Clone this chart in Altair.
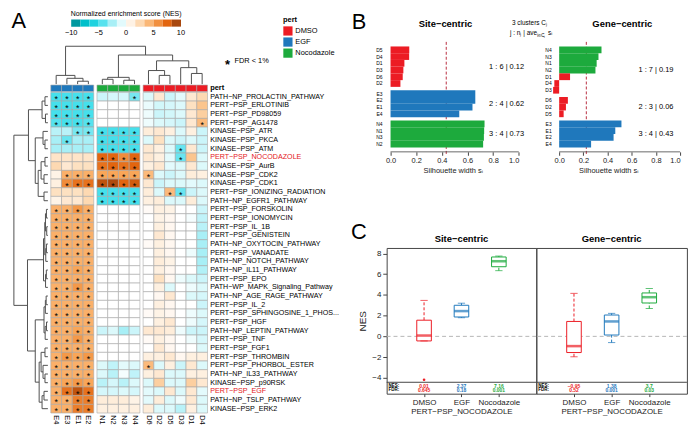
import altair as alt
import pandas as pd

S = 0.98


def P(v):
    return round(v * S, 3)


# ===================== Panel A data =====================
COLS = ["E4", "E3", "E1", "E2", "N1", "N2", "N3", "N4", "D6", "D2", "D5", "D3", "D1", "D4"]
COL_PERT = ["EGF"] * 4 + ["Nocodazole"] * 4 + ["DMSO"] * 6
ROWS = [
    "PATH−NP_PROLACTIN_PATHWAY", "PERT−PSP_ERLOTINIB", "PERT−PSP_PD98059", "PERT−PSP_AG1478",
    "KINASE−PSP_ATR", "KINASE−PSP_PKCA", "KINASE−PSP_ATM", "PERT−PSP_NOCODAZOLE",
    "KINASE−PSP_AurB", "KINASE−PSP_CDK2", "KINASE−PSP_CDK1", "PERT−PSP_IONIZING_RADIATION",
    "PATH−NP_EGFR1_PATHWAY", "PERT−PSP_FORSKOLIN", "PERT−PSP_IONOMYCIN", "PERT−PSP_IL_1B",
    "PERT−PSP_GENISTEIN", "PATH−NP_OXYTOCIN_PATHWAY", "PERT−PSP_VANADATE", "PATH−NP_NOTCH_PATHWAY",
    "PATH−NP_IL11_PATHWAY", "PERT−PSP_EPO", "PATH−WP_MAPK_Signaling_Pathway", "PATH−NP_AGE_RAGE_PATHWAY",
    "PERT−PSP_IL_2", "PERT−PSP_SPHINGOSINE_1_PHOS...", "PERT−PSP_HGF", "PATH−NP_LEPTIN_PATHWAY",
    "PERT−PSP_TNF", "PERT−PSP_FGF1", "PERT−PSP_THROMBIN", "PERT−PSP_PHORBOL_ESTER",
    "PATH−NP_IL33_PATHWAY", "KINASE−PSP_p90RSK", "PERT−PSP_EGF", "PATH−NP_TSLP_PATHWAY",
    "KINASE−PSP_ERK2",
]
RED_ROWS = ["PERT−PSP_NOCODAZOLE", "PERT−PSP_EGF"]

NES = [
    [-4.5, -4.5, -4.5, -4.5, -1.5, -1.2, -1.2, -3.5, -1.0, 1.5, -1.5, -0.8, 1.5, 2.5],
    [-4.5, -4.5, -4.5, -4.5, 0.0, 0.0, 0.0, 0.0, -0.6, -1.3, -1.2, -1.0, 2.0, 3.5],
    [-4.5, -4.5, -4.5, -4.5, 0.0, 0.0, 0.0, 0.0, -0.5, -1.5, -1.3, -1.0, 1.5, 3.0],
    [-4.2, -4.5, -4.5, -4.2, 0.0, 0.0, 0.0, 0.0, -0.5, -1.0, -1.2, -1.5, 1.5, 4.0],
    [-2.0, -2.0, -3.5, -3.5, -4.5, -4.5, -4.5, -4.5, 1.2, 1.5, 1.0, -1.0, 1.0, -1.5],
    [-2.5, -3.8, -2.5, -2.5, -4.5, -4.5, -4.5, -4.5, -1.0, 2.0, -1.0, -1.5, -1.0, -1.5],
    [-2.5, -2.5, -2.5, -2.5, -4.5, -4.5, -4.5, -4.5, 1.5, 1.0, -1.0, -3.8, 1.5, -1.5],
    [1.8, 1.8, 1.8, 1.8, 7.5, 7.5, 6.0, 7.5, 1.5, 1.0, -0.8, -3.8, 3.5, -1.0],
    [2.5, 1.5, 2.0, 2.0, 7.0, 7.5, 7.0, 7.5, 1.0, 1.5, -0.8, -1.0, 1.5, -1.0],
    [0.8, 4.5, 4.5, 4.5, 5.0, 5.0, 5.0, 5.0, 4.0, -1.0, -1.5, -1.0, 1.2, 1.0],
    [1.0, 6.0, 7.0, 7.0, 8.5, 9.0, 7.5, 8.0, 1.5, -1.5, -1.0, -1.0, -0.8, -1.0],
    [2.0, 2.0, 2.0, 2.5, -4.5, -4.5, -4.5, -4.5, 1.2, -1.0, 4.0, -3.8, -1.5, -1.0],
    [0.8, 1.5, 1.5, 2.5, -4.5, -4.5, -4.5, -4.5, 1.0, 1.2, -1.0, -1.0, 1.2, -1.0],
    [4.5, 4.5, 5.5, 4.5, 0.0, 0.0, 0.0, 0.0, 0.3, 1.0, 0.8, 0.0, 0.0, -1.5],
    [4.5, 4.5, 4.5, 4.5, 0.0, 0.0, 0.0, 0.0, 0.0, 0.8, 0.5, 0.0, -0.3, -1.8],
    [4.5, 4.5, 4.5, 4.5, 0.0, 0.0, 0.0, 0.0, 0.0, 1.0, 0.5, 0.0, 0.0, -2.0],
    [4.5, 4.5, 4.5, 4.5, 0.0, 0.0, 0.0, 0.0, 0.0, 1.5, 0.5, 0.0, 0.0, -2.5],
    [4.5, 4.5, 4.5, 4.5, 0.0, 0.0, 0.0, 0.0, 0.3, 1.0, 0.5, 0.0, 0.0, -2.5],
    [4.5, 4.5, 4.5, 4.5, 0.0, 0.0, 0.0, 0.0, 0.0, 1.0, 0.5, 0.0, -0.5, -2.5],
    [4.5, 4.5, 4.5, 4.5, 0.0, 0.0, 0.0, 0.0, 0.0, 1.2, 0.8, 0.0, 0.0, -2.5],
    [4.5, 4.5, 5.0, 4.5, 0.0, 0.0, 0.0, 0.0, 0.0, 1.0, 0.5, 0.0, 0.0, -2.2],
    [4.5, 4.5, 4.5, 4.5, 0.0, 0.0, 0.0, 0.0, 0.0, 2.0, 0.5, -0.5, -1.0, -1.5],
    [4.5, 4.5, 5.5, 4.5, 0.0, 0.0, 0.0, 0.0, 0.0, 1.0, -1.0, 0.0, -0.5, -1.0],
    [4.5, 4.5, 4.5, 4.5, 0.0, 0.0, 0.0, 0.0, 0.0, 0.5, 1.5, 0.0, -1.0, -1.2],
    [4.5, 4.5, 4.5, 4.5, 0.0, 0.0, 0.0, 0.0, 0.0, 1.0, 0.5, 0.0, 0.0, -1.5],
    [4.5, 4.5, 4.5, 4.5, 0.0, 0.0, 0.0, 0.0, 0.3, 0.8, 0.5, 0.0, -0.5, -1.0],
    [4.5, 4.5, 4.5, 4.5, 0.0, 0.0, 0.0, 0.0, 0.0, 1.0, 1.5, 0.0, -0.5, -1.2],
    [4.5, 4.5, 5.0, 4.5, -1.5, -1.0, -2.5, -1.5, 1.5, 1.5, 1.2, -0.5, -1.5, -1.5],
    [4.5, 4.5, 5.5, 4.5, 0.0, 0.0, 0.0, 0.0, 0.3, 1.0, 0.5, 0.0, -0.5, -1.2],
    [4.5, 4.5, 4.5, 4.5, 0.0, 0.0, 0.0, 0.0, 0.0, 1.5, 0.5, 0.0, 0.0, -1.0],
    [4.5, 5.5, 5.0, 5.5, 0.0, 0.0, 0.0, 0.0, 1.0, 1.0, 1.5, 0.5, 1.0, 1.0],
    [4.5, 4.5, 4.5, 4.5, -1.0, -1.8, -0.8, -1.0, 4.0, -1.0, 1.0, -1.5, 1.5, -1.0],
    [4.5, 4.5, 4.5, 4.5, -1.0, -2.0, -0.3, -1.8, 1.0, 1.5, -1.0, -1.0, 1.0, 1.0],
    [4.5, 5.0, 5.5, 5.0, -2.0, -1.2, -2.0, -1.0, -1.0, 3.0, -1.0, -1.0, 3.0, 1.5],
    [4.5, 7.0, 8.5, 7.0, -1.2, -1.2, -1.0, -1.2, -0.8, -1.0, 1.5, -1.0, 1.5, -0.8],
    [4.5, 4.5, 6.5, 6.5, 1.2, 1.2, 1.2, 0.8, -0.8, 1.2, -1.0, -0.5, 1.5, -1.0],
    [4.5, 4.5, 6.5, 6.5, 1.0, 1.0, 1.0, 1.0, 1.2, -1.0, -1.0, -2.0, 1.0, -1.0],
]

# '*' = FDR < 1%   (column order as COLS)
STARS = [
    "****...*......", "****..........", "****..........", "****.........*",
    "..******......", ".*..****......", "....****...*..", "....****...*..",
    "....****......", ".********.....", ".*******......", "....****..**..",
    "....****......",
    "****..........", "****..........", "****..........", "****..........",
    "****..........", "****..........", "****..........", "****..........",
    "****..........", "****..........", "****..........", "****..........",
    "****..........", "****..........", "****..........", "****..........",
    "****..........", "****..........", "****....*.....", "****..........",
    "****..........", "****..........", "****..........", "****..........",
]

# dendrograms: (left, right, merge height in px)
COL_TREE = ((0, (1, (2, 3, 3), 6), 9),
            (((4, 5, 5), (6, 7, 4), 7),
             ((8, (9, 10, 9), 14), (11, (12, 13, 11), 17), 24), 30), 39)
ROW_A = ((0, 1, 3), (2, 3, 2.5), 6)
ROW_B = (4, (5, 6, 3), 5)
ROW_C = ((7, 8, 3), (9, 10, 4), 7)
ROW_D = (11, 12, 4)
ROW_T = (ROW_A, (ROW_B, (ROW_C, ROW_D, 10), 13), 20)
ROW_X = ((((13, 14, 1.5), (15, 16, 1.2), 2.5), ((17, 18, 1.5), 19, 2.2), 3.2),
         ((20, 21, 1.6), 22, 2.4), 4.5)
ROW_Y1 = (((23, 24, 1.8), 25, 2.6), ((26, 27, 1.4), 28, 2.8), 4)
ROW_Y2 = (((29, 30, 3), (31, (32, 33, 3), 5), 7), ((34, 35, 4), 36, 6), 9)
ROW_TREE = (ROW_T, (ROW_X, (ROW_Y1, ROW_Y2, 13), 21), 35)

PERT_DOMAIN = ["DMSO", "EGF", "Nocodazole"]
PERT_COLORS = ["#EC1C24", "#1F78BC", "#1DAA3D"]

NES_STOPS = [-10, -7.5, -5, -2.5, 0, 2.5, 5, 7.5, 10]
NES_COLORS = ["#00868B", "#00BFCA", "#2EDCEA", "#A8EFF6", "#FFFFFF",
              "#FDD9B2", "#F9A658", "#E2650F", "#8B3A0F"]
CB_BINS = [-10, -8.33, -6.67, -5, -3.33, -1.67, 0, 1.67, 3.33, 5, 6.67, 8.33, 10]
CB_TICKS = [-10, -5, 0, 5, 10]
CB_TICK_LABELS = ["−10", "−5", "0", "5", "10"]

# ===================== Panel B data =====================
SITE_ORDER = ["D5", "D4", "D1", "D3", "D6", "D2", "E3", "E2", "E1", "E4", "N4", "N1", "N3", "N2"]
SITE_SIL = [0.146, 0.145, 0.108, 0.100, 0.095, 0.077, 0.661, 0.661, 0.639, 0.536,
            0.733, 0.730, 0.728, 0.722]
SITE_SIZES = [6, 4, 4]
SITE_CLUSTER_TEXT = ["1 : 6 | 0.12", "2 : 4 | 0.62", "3 : 4 | 0.73"]
GENE_ORDER = ["N4", "N3", "N1", "N2", "D1", "D4", "D3", "D6", "D2", "D5", "E3", "E1", "E2", "E4"]
GENE_SIL = [0.35, 0.325, 0.31, 0.30, 0.09, -0.04, -0.05, 0.072, 0.056, 0.037,
            0.515, 0.464, 0.45, 0.264]
GENE_SIZES = [7, 3, 4]
GENE_CLUSTER_TEXT = ["1 : 7 | 0.19", "2 : 3 | 0.06", "3 : 4 | 0.43"]
SAMPLE_PERT = {"D": "DMSO", "E": "EGF", "N": "Nocodazole"}

# ===================== Panel C data =====================
C_GROUPS = ["DMSO", "EGF", "Nocodazole"]
SITE_LO = [-0.44, 1.80, 6.34]
SITE_Q1 = [-0.44, 1.87, 6.72]
SITE_MED = [0.08, 2.44, 7.25]
SITE_Q3 = [1.56, 3.00, 7.66]
SITE_HI = [3.47, 3.20, 7.75]
SITE_OUT_GRP = ["DMSO"]
SITE_OUT_VAL = [-4.19]
SITE_NES_TXT = ["0.01", "2.37", "7.16"]
SITE_FDR_TXT = ["0.645", "0.18", "0.001"]
GENE_LO = [-1.97, -0.60, 2.69]
GENE_Q1 = [-1.56, 0.13, 3.22]
GENE_MED = [-0.94, 1.44, 3.78]
GENE_Q3 = [1.44, 2.06, 4.19]
GENE_HI = [4.15, 2.22, 4.62]
GENE_NES_TXT = ["−0.95", "1.38", "3.7"]
GENE_FDR_TXT = ["0.52", "0.001", "0.03"]

# ===================== layout constants (reference px) =====================
COL_PX, ROW_PX = 11.05, 8.92
HM_LEFT, HM_TOP = 41.0, 85.0
HM_W, ROW0_H = 386.0, 141.7
GAP = 0.3

pert_scale = alt.Scale(domain=PERT_DOMAIN, range=PERT_COLORS)
nes_scale = alt.Scale(domain=NES_STOPS, range=NES_COLORS, interpolate="rgb")
one = pd.DataFrame({"k": [0]})


def tree_segments(node, leaf_pos):
    if isinstance(node, int):
        return leaf_pos[node], 0.0, []
    left, right, h = node
    pl, hl, sl = tree_segments(left, leaf_pos)
    pr, hr, sr = tree_segments(right, leaf_pos)
    segs = sl + sr + [(pl, hl, pl, h), (pr, hr, pr, h), (pl, h, pr, h)]
    return (pl + pr) / 2.0, h, segs


# ---------- heatmap frames ----------
blocks = []
b = 0
for j, p in enumerate(COL_PERT):
    if j > 0 and p != COL_PERT[j - 1]:
        b += 1
    blocks.append(b)
col_x0 = [j + GAP * blocks[j] for j in range(len(COLS))]
col_cx = [x + 0.5 for x in col_x0]
X_RIGHT = col_x0[-1] + 1

cells, stars = [], []
for i, r in enumerate(ROWS):
    for j, c in enumerate(COLS):
        cells.append({"x0": col_x0[j], "x1": col_x0[j] + 1, "y0": i, "y1": i + 1,
                      "nes": NES[i][j], "row": r, "col": c})
        if STARS[i][j] == "*":
            stars.append({"cx": col_cx[j], "cy": i + 0.5})
cell_df = pd.DataFrame(cells)
star_df = pd.DataFrame(stars)

pert_df = pd.DataFrame({"x0": col_x0, "x1": [x + 1 for x in col_x0],
                        "y0": [-0.85] * len(COLS), "y1": [-0.1] * len(COLS), "pert": COL_PERT})

lab_df = pd.DataFrame({"label": ROWS, "ly": [i + 0.5 for i in range(len(ROWS))],
                       "lx": [X_RIGHT + 0.25] * len(ROWS)})
lab_df["red"] = lab_df["label"].isin(RED_ROWS)
collab_df = pd.DataFrame({"name": COLS, "cx": col_cx, "ly": [len(ROWS) + 0.25] * len(COLS)})

LEAF_Y = (76.5 - HM_TOP) / ROW_PX
_, _, csegs = tree_segments(COL_TREE, col_cx)
ctree_df = pd.DataFrame([{"x": a, "y": LEAF_Y - ha / ROW_PX, "x2": bb, "y2": LEAF_Y - hb / ROW_PX}
                         for a, ha, bb, hb in csegs])
LEAF_X = (38.0 - HM_LEFT) / COL_PX
_, _, rsegs = tree_segments(ROW_TREE, [i + 0.5 for i in range(len(ROWS))])
rtree_df = pd.DataFrame([{"y": a, "x": LEAF_X - ha / COL_PX, "y2": bb, "x2": LEAF_X - hb / COL_PX}
                         for a, ha, bb, hb in rsegs])

hx_s = alt.Scale(domain=[-HM_LEFT / COL_PX, (HM_W - HM_LEFT) / COL_PX], nice=False, zero=False)
hy_s = alt.Scale(domain=[-HM_TOP / ROW_PX, (ROW0_H - HM_TOP) / ROW_PX], nice=False, zero=False,
                 reverse=True)


def HX(f):
    return alt.X(f, type="quantitative", scale=hx_s, axis=None)


def HY(f):
    return alt.Y(f, type="quantitative", scale=hy_s, axis=None)


DEND_COLOR = "#505050"
dend_top = alt.Chart(ctree_df).mark_rule(color=DEND_COLOR, strokeWidth=1).encode(
    x=HX("x"), y=HY("y"), x2="x2", y2="y2")
dend_left = alt.Chart(rtree_df).mark_rule(color=DEND_COLOR, strokeWidth=1).encode(
    x=HX("x"), y=HY("y"), x2="x2", y2="y2")
cell_layer = alt.Chart(cell_df).mark_rect(stroke="#A8A8A8", strokeWidth=0.6).encode(
    x=HX("x0"), x2="x1", y=HY("y0"), y2="y1",
    fill=alt.Fill("nes:Q", scale=nes_scale, legend=None))
star_layer = alt.Chart(star_df).mark_text(text="*", fontSize=9, dy=2.5, color="black").encode(
    x=HX("cx"), y=HY("cy"))
pert_layer = alt.Chart(pert_df).mark_rect(stroke="#A8A8A8", strokeWidth=0.6).encode(
    x=HX("x0"), x2="x1", y=HY("y0"), y2="y1",
    color=alt.Color("pert:N", scale=pert_scale,
                    legend=alt.Legend(orient="none", legendX=P(280), legendY=P(6.5), title="pert",
                                      titleFontSize=7.5, titleFontWeight="bold", labelFontSize=7.5,
                                      symbolType="square", symbolSize=P(88), symbolStrokeWidth=0,
                                      rowPadding=P(1.2), labelOffset=P(2.5), titlePadding=P(2.5),
                                      padding=0, titleColor="black", labelColor="black")))
rowlab_black = alt.Chart(lab_df[~lab_df["red"]]).mark_text(
    align="left", baseline="middle", fontSize=7.2, color="black").encode(
    x=HX("lx"), y=HY("ly"), text="label:N")
rowlab_red = alt.Chart(lab_df[lab_df["red"]]).mark_text(
    align="left", baseline="middle", fontSize=7.2, color="#E4161C").encode(
    x=HX("lx"), y=HY("ly"), text="label:N")
collab = alt.Chart(collab_df).mark_text(
    align="left", baseline="middle", angle=90, fontSize=7.5, color="black").encode(
    x=HX("cx"), y=HY("ly"), text="name:N")
pert_txt = alt.Chart(pd.DataFrame({"x": [X_RIGHT + 0.25], "y": [-0.47]})).mark_text(
    text="pert", align="left", baseline="middle", fontSize=7.5, fontWeight="bold").encode(
    x=HX("x"), y=HY("y"))
fdr_star = alt.Chart(one).mark_text(text="*", fontSize=13, fontWeight="bold", baseline="middle").encode(
    x=alt.value(P(223)), y=alt.value(P(56.5)))
fdr_txt = alt.Chart(one).mark_text(text="FDR < 1%", fontSize=7.5, align="left", baseline="middle").encode(
    x=alt.value(P(230)), y=alt.value(P(53)))
letter_a = alt.Chart(one).mark_text(text="A", fontSize=22, baseline="middle").encode(
    x=alt.value(P(8)), y=alt.value(P(12)))

# colorbar (its own x scale: -10 at ref px 62, +10 at ref px 175)
CB_PX = (175.0 - 62.0) / 20.0
CB_LO = -10 - 62.0 / CB_PX
cb_s = alt.Scale(domain=[CB_LO, CB_LO + HM_W / CB_PX], nice=False, zero=False)
cb_df = pd.DataFrame({"lo": CB_BINS[:-1], "hi": CB_BINS[1:]})
cb_df["mid"] = (cb_df["lo"] + cb_df["hi"]) / 2
cb_rect = alt.Chart(cb_df).mark_rect().encode(
    x=alt.X("lo:Q", scale=cb_s, axis=None), x2="hi",
    y=alt.value(P(10)), y2=alt.value(P(17.3)),
    fill=alt.Fill("mid:Q", scale=nes_scale, legend=None))
cb_lab = alt.Chart(pd.DataFrame({"v": CB_TICKS, "lab": CB_TICK_LABELS})).mark_text(
    fontSize=7.5, baseline="middle").encode(
    x=alt.X("v:Q", scale=cb_s, axis=None), y=alt.value(P(23.5)), text="lab:N")
cb_title = alt.Chart(pd.DataFrame({"v": [0]})).mark_text(
    text="Normalized enrichment score (NES)", fontSize=7, baseline="middle").encode(
    x=alt.X("v:Q", scale=cb_s, axis=None), y=alt.value(P(4.5)))

heatmap = alt.layer(
    cb_rect, cb_lab, cb_title, dend_top, dend_left, cell_layer, star_layer, pert_layer,
    rowlab_black, rowlab_red, collab, pert_txt, fdr_star, fdr_txt, letter_a
).resolve_scale(x="independent").properties(width=P(HM_W), height=P(ROW0_H))


# ===================== Panel B =====================
B_PX = 6.933
B_Y_LO = -0.5 - 37.7 / B_PX


def sil_chart(order, sil, sizes, texts, unit_px, width, title, title_x, lab_x, extra):
    pos, clus = [], []
    k = 0
    for c, n in enumerate(sizes):
        for _ in range(n):
            pos.append(k + 0.5 * c)
            clus.append(c)
            k += 1
    df = pd.DataFrame({"sample": order, "sil": sil, "pos": pos, "cl": clus})
    df["grp"] = df["sample"].str[0].map(SAMPLE_PERT)
    df["y0"] = df["pos"] - 0.5
    df["y1"] = df["pos"] + 0.5
    df["x0"] = 0.0
    cl_df = df.groupby("cl")["pos"].mean().reset_index()
    cl_df["txt"] = texts
    cl_df["lx"] = lab_x
    lo = 1.0 - width / unit_px
    bx = alt.Scale(domain=[lo, 1.0], nice=False, zero=False)
    by = alt.Scale(domain=[B_Y_LO, 14.5], nice=False, zero=False, reverse=True)
    avg = float(df["sil"].mean())
    ax = alt.Axis(values=[0, 0.2, 0.4, 0.6, 0.8, 1.0], format=".1f", domain=False, grid=False,
                  tickSize=P(3.5), tickColor="#444", labelFontSize=7.5, labelColor="#222",
                  labelPadding=P(1.5), offset=P(4.5), title="Silhouette width sᵢ",
                  titleFontSize=7.5, titleFontWeight="normal", titlePadding=P(2.5),
                  titleColor="#222")
    bars = alt.Chart(df).mark_rect().encode(
        x=alt.X("x0:Q", scale=bx, axis=ax), x2="sil:Q",
        y=alt.Y("y0:Q", scale=by, axis=None), y2="y1:Q",
        color=alt.Color("grp:N", scale=pert_scale, legend=None))
    avg_rule = alt.Chart(one).mark_rule(color="#B2182B", strokeDash=[3, 2], strokeWidth=0.9).encode(
        x=alt.XDatum(avg, scale=bx, axis=ax), y=alt.value(P(33)), y2=alt.value(P(149)))
    axis_line = alt.Chart(one).mark_rule(color="#444", strokeWidth=0.8).encode(
        x=alt.XDatum(0, scale=bx, axis=ax), x2=alt.X2Datum(1), y=alt.value(P(ROW0_H + 4.5)))
    labels = alt.Chart(df).mark_text(align="right", baseline="middle", fontSize=5).encode(
        x=alt.XDatum(-0.062, scale=bx, axis=ax), y=alt.Y("pos:Q", scale=by, axis=None),
        text="sample:N")
    cl_lab = alt.Chart(cl_df).mark_text(fontSize=7.5, baseline="middle").encode(
        x=alt.X("lx:Q", scale=bx, axis=ax), y=alt.Y("pos:Q", scale=by, axis=None), text="txt:N")
    ttl = alt.Chart(one).mark_text(text=title, fontSize=9.5, fontWeight="bold", baseline="middle").encode(
        x=alt.value(P(title_x)), y=alt.value(P(15)))
    return alt.layer(avg_rule, bars, axis_line, labels, cl_lab, ttl, *extra).properties(
        width=P(width), height=P(ROW0_H))


b_extra = [
    alt.Chart(one).mark_text(text="B", fontSize=22, baseline="middle").encode(
        x=alt.value(P(-28.5)), y=alt.value(P(12.5))),
    alt.Chart(one).mark_text(text="3 clusters Cⱼ", fontSize=6.5, baseline="middle").encode(
        x=alt.value(P(147)), y=alt.value(P(14))),
    alt.Chart(one).mark_text(text="j : nⱼ | ave", fontSize=6.5, align="left", baseline="middle").encode(
        x=alt.value(P(127)), y=alt.value(P(24))),
    alt.Chart(one).mark_text(text="i∈Cⱼ", fontSize=4.5, align="left", baseline="middle").encode(
        x=alt.value(P(155)), y=alt.value(P(26.5))),
    alt.Chart(one).mark_text(text="sᵢ", fontSize=6.5, align="left", baseline="middle").encode(
        x=alt.value(P(166)), y=alt.value(P(24))),
]

b_site = sil_chart(SITE_ORDER, SITE_SIL, SITE_SIZES, SITE_CLUSTER_TEXT, 132.0, 136,
                   "Site−centric", 60.5, 0.905, b_extra)
b_gene = sil_chart(GENE_ORDER, GENE_SIL, GENE_SIZES, GENE_CLUSTER_TEXT, 124.5, 148,
                   "Gene−centric", 88.5, 0.80, [])


# ===================== Panel C =====================
def box_chart(lo, q1, med, q3, hi, out_g, out_v, nes_t, fdr_t, title, width, y_axis, extra):
    df = pd.DataFrame({"grp": C_GROUPS, "lo": lo, "q1": q1, "med": med, "q3": q3, "hi": hi,
                       "nes_t": nes_t, "fdr_t": fdr_t})
    xs = alt.Scale(type="point", domain=C_GROUPS, padding=1.18)
    ys = alt.Scale(domain=[-5.53, 8.53], nice=False, zero=False)
    x_axis = alt.Axis(title="PERT−PSP_NOCODAZOLE", labelFontSize=8, titleFontSize=8,
                      titleFontWeight="normal", tickSize=P(3), tickColor="#444", labelPadding=P(2),
                      titlePadding=P(1.5), domain=False, labelAngle=0, grid=False,
                      labelColor="#222", titleColor="#222")
    if y_axis:
        yax = alt.Axis(values=[-4, -2, 0, 2, 4, 6, 8], domain=False, grid=False, tickSize=P(4),
                       tickColor="#444", labelFontSize=8, labelPadding=P(2), labelColor="#222",
                       title="NES", titleFontSize=10, titleFontWeight="normal", titlePadding=P(4),
                       titleColor="#222")
    else:
        yax = None
    X = alt.X("grp:N", scale=xs, axis=x_axis)
    col = alt.Color("grp:N", scale=pert_scale, legend=None)

    def Y(f):
        return alt.Y(f, type="quantitative", scale=ys, axis=yax)

    def YD(v):
        return alt.YDatum(v, scale=ys, axis=yax)

    zero = alt.Chart(one).mark_rule(color="#B5B5B5", strokeDash=[4, 3], strokeWidth=1).encode(
        y=YD(0))
    sep = alt.Chart(one).mark_rule(color="#444", strokeWidth=1).encode(y=YD(-4.43))
    wh = alt.Chart(df).mark_rule(strokeDash=[3, 2], strokeWidth=1).encode(
        x=X, y=Y("q3"), y2="hi", color=col)
    wl = alt.Chart(df).mark_rule(strokeDash=[3, 2], strokeWidth=1).encode(
        x=X, y=Y("lo"), y2="q1", color=col)
    box = alt.Chart(df).mark_bar(size=P(15), fill="white", strokeWidth=1).encode(
        x=X, y=Y("q1"), y2="q3",
        stroke=alt.Stroke("grp:N", scale=pert_scale, legend=None))
    md = alt.Chart(df).mark_tick(thickness=P(2.6), size=P(15)).encode(x=X, y=Y("med"), color=col)
    ch = alt.Chart(df).mark_tick(thickness=1, size=P(7.5)).encode(x=X, y=Y("hi"), color=col)
    cl = alt.Chart(df).mark_tick(thickness=1, size=P(7.5)).encode(x=X, y=Y("lo"), color=col)
    layers = [zero, sep, wh, wl, box, md, ch, cl]
    if out_g:
        odf = pd.DataFrame({"grp": out_g, "val": out_v})
        layers.append(alt.Chart(odf).mark_point(filled=True, size=7, opacity=1).encode(
            x=X, y=Y("val"), color=col))
    layers.append(alt.Chart(df).mark_text(fontSize=5, fontWeight="bold", baseline="middle").encode(
        x=X, y=YD(-4.76), text="nes_t:N", color=col))
    layers.append(alt.Chart(df).mark_text(fontSize=5, fontWeight="bold", baseline="middle").encode(
        x=X, y=YD(-5.22), text="fdr_t:N", color=col))
    layers.append(alt.Chart(one).mark_text(text="NES:", fontSize=4.5, fontWeight="bold",
                                           align="left", baseline="middle").encode(
        x=alt.value(P(2)), y=YD(-4.76)))
    layers.append(alt.Chart(one).mark_text(text="FDR:", fontSize=4.5, fontWeight="bold",
                                           align="left", baseline="middle").encode(
        x=alt.value(P(2)), y=YD(-5.22)))
    layers.append(alt.Chart(one).mark_text(text=title, fontSize=9.5, fontWeight="bold",
                                           baseline="middle").encode(
        x=alt.value(P(width / 2.0)), y=alt.value(P(-9))))
    layers.extend(extra)
    return alt.layer(*layers).properties(
        width=P(width), height=P(150),
        view=alt.ViewBackground(stroke="#444444", strokeWidth=1))


c_extra = [alt.Chart(one).mark_text(text="C", fontSize=22, baseline="middle").encode(
    x=alt.value(P(-28.5)), y=alt.value(P(-16.5)))]
c_site = box_chart(SITE_LO, SITE_Q1, SITE_MED, SITE_Q3, SITE_HI, SITE_OUT_GRP, SITE_OUT_VAL,
                   SITE_NES_TXT, SITE_FDR_TXT, "Site−centric", 154, True, c_extra)
c_gene = box_chart(GENE_LO, GENE_Q1, GENE_MED, GENE_Q3, GENE_HI, [], [],
                   GENE_NES_TXT, GENE_FDR_TXT, "Gene−centric", 155, False, [])

spacer = alt.Chart(one).mark_point(opacity=0).encode(
    x=alt.value(0), y=alt.value(0)).properties(width=1, height=1)

chart = alt.concat(
    heatmap, b_site, b_gene, spacer, c_site, c_gene,
    columns=3, spacing={"row": P(245 - ROW0_H), "column": 0}, bounds="flush", align="each"
).resolve_scale(
    color="independent", fill="independent", stroke="independent"
).properties(padding=0).configure(font="Liberation Sans").configure_view(stroke=None)

chart.save("out.html", embed_options={"renderer": "svg", "actions": False})
